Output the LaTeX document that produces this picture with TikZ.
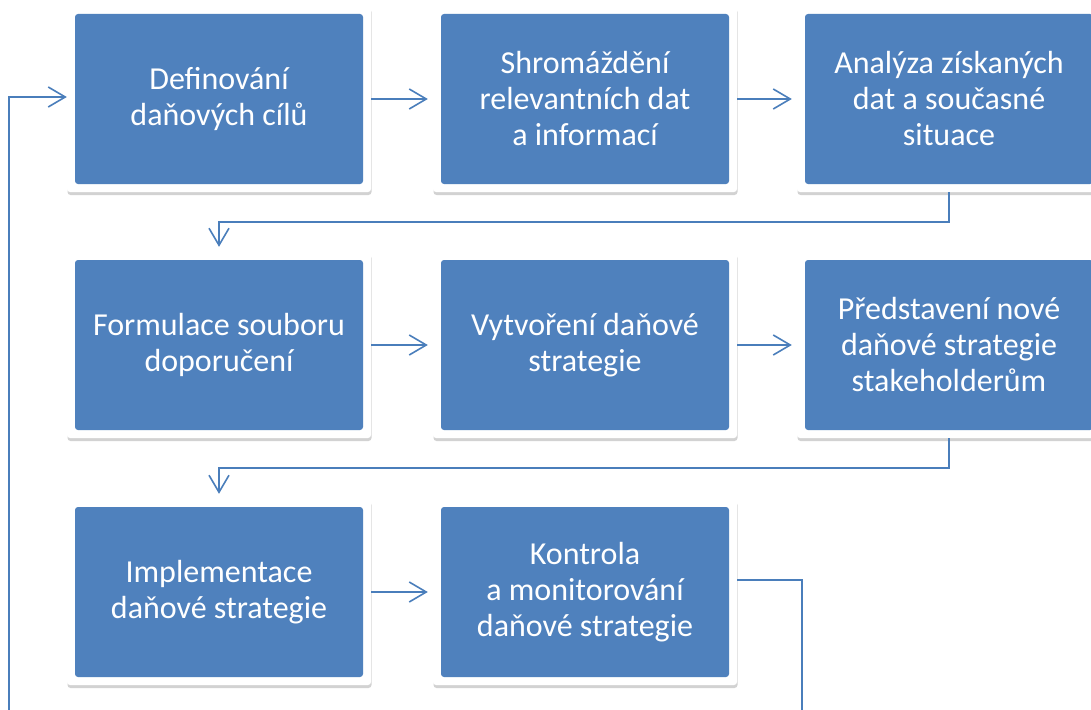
\documentclass[tikz,border=0pt]{standalone}
\usepackage{fontspec}
\setmainfont{Carlito}
\usepackage{tikz}
\usetikzlibrary{arrows.meta,shadows}

\definecolor{stepblue}{HTML}{4F81BD}
\definecolor{flowblue}{HTML}{4A7EBB}

\begin{document}
\begin{tikzpicture}[x=1pt,y=-1pt,
  stepbox/.style={rectangle,rounded corners=3pt,fill=white,inner sep=0pt,
    minimum width=304pt,minimum height=186pt,text width=288pt,align=flush center,
    text=white,font=\fontsize{32}{36}\selectfont,
    drop shadow={shadow xshift=.5pt,shadow yshift=-3pt,opacity=.25,fill=black!70},
    path picture={\fill[stepblue]
      ([shift={(8pt,8pt)}]path picture bounding box.south west) rectangle
      ([shift={(-8pt,-8pt)}]path picture bounding box.north east);}},
  flow/.style={draw=flowblue,line width=1.6pt,
    -{Straight Barb[length=17pt,width=20pt]}}]
\useasboundingbox (0,0) rectangle (1091,709);
\clip (0,0) rectangle (1091,709);
% Steps
\node at (219,99) [stepbox] (Step1) {Definování\\daňových cílů};
\node at (585,99) [stepbox] (Step2) {Shromáždění\\relevantních dat\\a informací};
\node at (949,99) [stepbox] (Step3) {Analýza získaných\\dat a současné\\situace};
\node at (219,345) [stepbox] (Step4) {Formulace souboru\\doporučení};
\node at (585,345) [stepbox] (Step5) {Vytvoření daňové\\strategie};
\node at (949,345) [stepbox] (Step6) {Představení nové\\daňové strategie\\stakeholderům};
\node at (219,592) [stepbox] (Step7) {Implementace\\daňové strategie};
\node at (585,592) [stepbox] (Step8) {Kontrola\\a monitorování\\daňové strategie};
% Loop corners (outside the page)
\coordinate (LoopLow) at (802,740);
\coordinate (LoopLeft) at (9,740);
% Step Connections
\draw [flow,shorten >=5pt] (Step1.east) -- (Step2.west);
\draw [flow,shorten >=5pt] (Step2.east) -- (Step3.west);
\draw [flow,shorten >=5pt] (Step3.south) -- ++(0,30) -| (Step4.north);
\draw [flow,shorten >=5pt] (Step4.east) -- (Step5.west);
\draw [flow,shorten >=5pt] (Step5.east) -- (Step6.west);
\draw [flow,shorten >=5pt] (Step6.south) -- ++(0,30) -| (Step7.north);
\draw [flow,shorten >=5pt] (Step7.east) -- (Step8.west);
\draw [flow] ([yshift=12pt]Step8.east) -| (LoopLow) -| (LoopLeft) |- ([yshift=2pt]Step1.west);
\end{tikzpicture}
\end{document}
